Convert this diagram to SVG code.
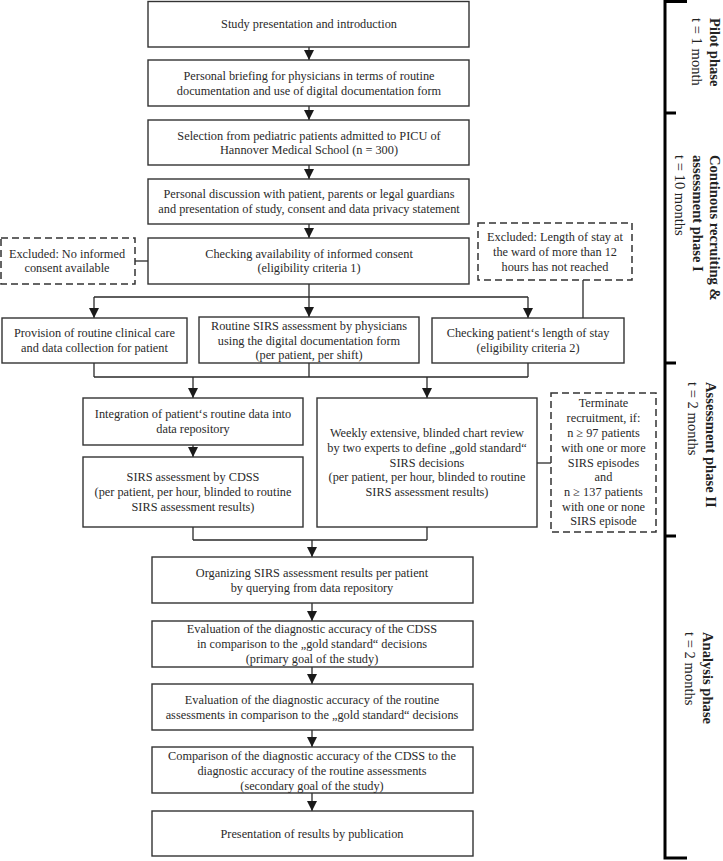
<svg xmlns="http://www.w3.org/2000/svg" width="723" height="861" viewBox="0 0 723 861">
<defs>
<marker id="ah" viewBox="0 0 10 10" refX="10" refY="5" markerWidth="10" markerHeight="10" markerUnits="userSpaceOnUse" orient="auto">
<path d="M0,0 L10,5 L0,10 z" fill="#1a1a1a"/>
</marker>
<style>
.box{fill:#fff;stroke:#333;stroke-width:1.4}
.dbox{fill:#fff;stroke:#333;stroke-width:1.5;stroke-dasharray:7 4}
.t{font-family:"Liberation Serif","Times New Roman",serif;font-size:12.3px;fill:#2a2a2a;text-anchor:middle}
.c{fill:none;stroke:#2a2a2a;stroke-width:1.3}
.a{fill:none;stroke:#2a2a2a;stroke-width:1.3;marker-end:url(#ah)}
.br{fill:none;stroke:#000;stroke-width:3}
.pb{font-family:"Liberation Serif","Times New Roman",serif;font-size:14.6px;font-weight:bold;fill:#222}
.pr{font-family:"Liberation Serif","Times New Roman",serif;font-size:14.6px;fill:#222}
</style>
</defs>
<rect width="723" height="861" fill="#fff"/>

<g id="connectors">
<path class="a" d="M309,47 V60"/>
<path class="a" d="M309,106 V120"/>
<path class="a" d="M309,165 V179"/>
<path class="a" d="M309,224 V238"/>
<path class="c" d="M309,284 V297 M94,297 H528"/>
<path class="a" d="M94,297 V318"/>
<path class="a" d="M309,297 V317"/>
<path class="a" d="M528,297 V318"/>
<path class="c" d="M135,261 H148"/>
<path class="c" d="M583,280 V318"/>
<path class="c" d="M94,363 V377 M309,363 V377 M528,363 V377 M94,377 H528"/>
<path class="a" d="M193,377 V398"/>
<path class="a" d="M427,377 V398"/>
<path class="a" d="M193,445 V457"/>
<path class="c" d="M537,463 H551"/>
<path class="c" d="M193,527 V540 M427,527 V540 M193,540 H427"/>
<path class="a" d="M312,540 V557"/>
<path class="a" d="M312,603 V621"/>
<path class="a" d="M312,667 V684"/>
<path class="a" d="M312,730 V747"/>
<path class="a" d="M312,793 V811"/>
</g>

<g id="n1"><rect class="box" x="148" y="1.5" width="321" height="45.5"/>
<text class="t" x="309" y="28">Study presentation and introduction</text></g>

<g id="n2"><rect class="box" x="148" y="60" width="321" height="46"/>
<text class="t" x="309" y="80">Personal briefing for physicians in terms of routine</text>
<text class="t" x="309" y="95">documentation and use of digital documentation form</text></g>

<g id="n3"><rect class="box" x="148" y="120" width="321" height="45"/>
<text class="t" x="309" y="140">Selection from pediatric patients admitted to PICU of</text>
<text class="t" x="309" y="154">Hannover Medical School (n = 300)</text></g>

<g id="n4"><rect class="box" x="148" y="179" width="321" height="45"/>
<text class="t" x="309" y="198">Personal discussion with patient, parents or legal guardians</text>
<text class="t" x="309" y="213">and presentation of study, consent and data privacy statement</text></g>

<g id="n5"><rect class="box" x="148" y="238" width="321" height="46"/>
<text class="t" x="309" y="258">Checking availability of informed consent</text>
<text class="t" x="309" y="272">(eligibility criteria 1)</text></g>

<g id="excl1"><rect class="dbox" x="1" y="238" width="134" height="46"/>
<text class="t" x="67" y="258">Excluded: No informed</text>
<text class="t" x="67" y="272">consent available</text></g>

<g id="excl2"><rect class="dbox" x="478" y="223" width="154" height="57"/>
<text class="t" x="555" y="241">Excluded: Length of stay at</text>
<text class="t" x="555" y="256">the ward of more than 12</text>
<text class="t" x="555" y="271">hours has not reached</text></g>

<g id="n6"><rect class="box" x="2" y="318" width="185" height="45"/>
<text class="t" x="94.5" y="337">Provision of routine clinical care</text>
<text class="t" x="94.5" y="352">and data collection for patient</text></g>

<g id="n7"><rect class="box" x="199" y="317" width="220" height="46"/>
<text class="t" x="309" y="330">Routine SIRS assessment by physicians</text>
<text class="t" x="309" y="345">using the digital documentation form</text>
<text class="t" x="309" y="359">(per patient, per shift)</text></g>

<g id="n8"><rect class="box" x="432" y="318" width="192" height="45"/>
<text class="t" x="528" y="337">Checking patient‘s length of stay</text>
<text class="t" x="528" y="352">(eligibility criteria 2)</text></g>

<g id="n9"><rect class="box" x="83" y="398" width="220" height="47"/>
<text class="t" x="193" y="418">Integration of patient‘s routine data into</text>
<text class="t" x="193" y="433">data repository</text></g>

<g id="n10"><rect class="box" x="83" y="457" width="220" height="70"/>
<text class="t" x="193" y="481">SIRS assessment by CDSS</text>
<text class="t" x="193" y="496">(per patient, per hour, blinded to routine</text>
<text class="t" x="193" y="511">SIRS assessment results)</text></g>

<g id="n11"><rect class="box" x="317" y="398" width="220" height="129"/>
<text class="t" x="427" y="437">Weekly extensive, blinded chart review</text>
<text class="t" x="427" y="452">by two experts to define „gold standard“</text>
<text class="t" x="427" y="467">SIRS decisions</text>
<text class="t" x="427" y="481">(per patient, per hour, blinded to routine</text>
<text class="t" x="427" y="496">SIRS assessment results)</text></g>

<g id="term"><rect class="dbox" x="551" y="393" width="105" height="139"/>
<text class="t" x="603.5" y="407">Terminate</text>
<text class="t" x="603.5" y="422">recruitment, if:</text>
<text class="t" x="603.5" y="437">n  ≥ 97 patients</text>
<text class="t" x="603.5" y="452">with one or more</text>
<text class="t" x="603.5" y="467">SIRS episodes</text>
<text class="t" x="603.5" y="481">and</text>
<text class="t" x="603.5" y="496">n  ≥ 137 patients</text>
<text class="t" x="603.5" y="511">with one or none</text>
<text class="t" x="603.5" y="525">SIRS episode</text></g>

<g id="n12"><rect class="box" x="152" y="557" width="321" height="46"/>
<text class="t" x="312" y="577">Organizing SIRS assessment results per patient</text>
<text class="t" x="312" y="592">by querying from data repository</text></g>

<g id="n13"><rect class="box" x="152" y="621" width="321" height="46"/>
<text class="t" x="312" y="633">Evaluation of the diagnostic accuracy of the CDSS</text>
<text class="t" x="312" y="648">in comparison to the „gold standard“ decisions</text>
<text class="t" x="312" y="663">(primary goal of the study)</text></g>

<g id="n14"><rect class="box" x="152" y="684" width="321" height="46"/>
<text class="t" x="312" y="704">Evaluation of the diagnostic accuracy of the routine</text>
<text class="t" x="312" y="719">assessments in comparison to the „gold standard“ decisions</text></g>

<g id="n15"><rect class="box" x="152" y="747" width="321" height="46"/>
<text class="t" x="312" y="760">Comparison of the diagnostic accuracy of the CDSS to the</text>
<text class="t" x="312" y="775">diagnostic accuracy of the routine assessments</text>
<text class="t" x="312" y="790">(secondary goal of the study)</text></g>

<g id="n16"><rect class="box" x="152" y="811" width="321" height="45"/>
<text class="t" x="312" y="838">Presentation of results by publication</text></g>

<g id="phases">
<path class="br" d="M687,1.5 H665 V858 H687 M665,113 H676 M665,363 H676 M665,536 H676"/>
<text class="pb" transform="translate(710,18) rotate(90)">Pilot phase</text>
<text class="pr" transform="translate(692,18) rotate(90)">t = 1 month</text>
<text class="pb" transform="translate(710,155) rotate(90)">Continous recruiting &amp;</text>
<text class="pb" transform="translate(693,155) rotate(90)">assessment phase I</text>
<text class="pr" transform="translate(675,155) rotate(90)">t = 10 months</text>
<text class="pb" transform="translate(706,382) rotate(90)">Assessment phase II</text>
<text class="pr" transform="translate(688,382) rotate(90)">t = 2 months</text>
<text class="pb" transform="translate(703,632) rotate(90)">Analysis phase</text>
<text class="pr" transform="translate(685,632) rotate(90)">t = 2 months</text>
</g>
</svg>
